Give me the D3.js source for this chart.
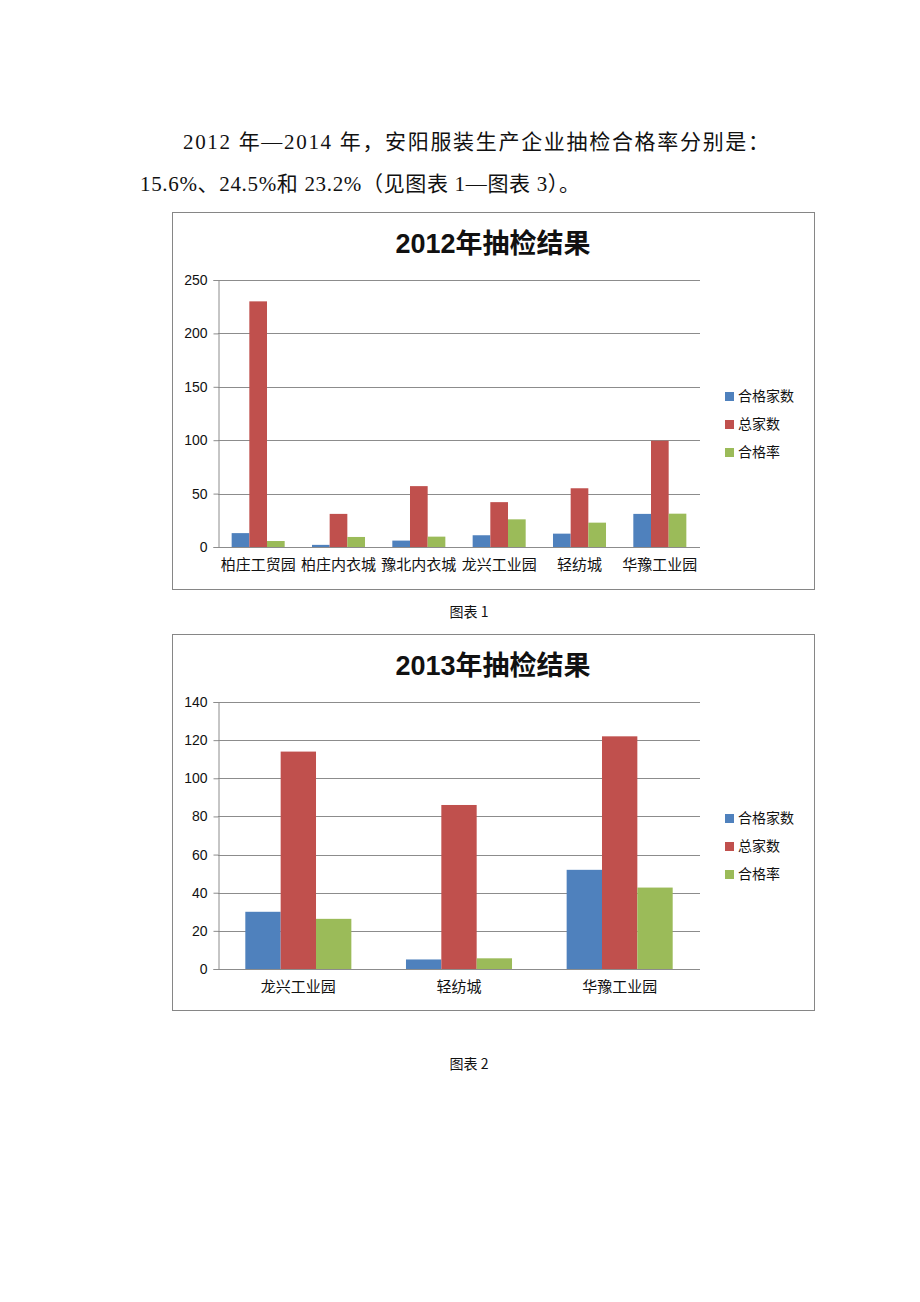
<!DOCTYPE html>
<html><head><meta charset="utf-8">
<script src="https://cdn.jsdelivr.net/npm/d3@7"></script>
<style>body{margin:0;background:#fff}svg{display:block}</style>
</head><body>
<script>
const seriesNames = ["合格家数", "总家数", "合格率"];
const colors = ["#4F81BD", "#C0504D", "#9BBB59"];

const categories2012 = ["柏庄工贸园", "柏庄内衣城", "豫北内衣城", "龙兴工业园", "轻纺城", "华豫工业园"];
const pass2012 = [13, 2, 6, 11, 12.5, 31];
const total2012 = [230, 31, 57, 42, 55, 99.5];
const rate2012 = [5.6, 9.4, 9.7, 25.9, 22.8, 31.2];
const ticks2012 = [0, 50, 100, 150, 200, 250];

const categories2013 = ["龙兴工业园", "轻纺城", "华豫工业园"];
const pass2013 = [30, 5, 52];
const total2013 = [114, 86, 122];
const rate2013 = [26.3, 5.6, 42.7];
const ticks2013 = [0, 20, 40, 60, 80, 100, 120, 140];

const W = 920, H = 1302;
const svg = d3.select("body").append("svg").attr("width", W).attr("height", H);
svg.append("rect").attr("width", W).attr("height", H).attr("fill", "#fff");

const serif = "'Liberation Serif','Noto Sans CJK SC',serif";
const sans = "'Noto Sans CJK SC','Liberation Sans',sans-serif";

svg.append("text").attr("x", 183).attr("y", 149).attr("font-family", serif).attr("font-size", 21).attr("fill", "#111")
  .attr("textLength", 586).attr("lengthAdjust", "spacing")
  .text("2012 年—2014 年，安阳服装生产企业抽检合格率分别是：");
svg.append("text").attr("x", 140).attr("y", 191).attr("font-family", serif).attr("font-size", 21).attr("fill", "#111")
  .attr("textLength", 440).attr("lengthAdjust", "spacing")
  .text("15.6%、24.5%和 23.2%（见图表 1—图表 3）。");

function drawChart(opt) {
  const g = svg.append("g");
  g.append("rect").attr("x", opt.box[0] + 0.5).attr("y", opt.box[1] + 0.5)
    .attr("width", opt.box[2]).attr("height", opt.box[3])
    .attr("fill", "#fff").attr("stroke", "#868686").attr("stroke-width", 1);
  g.append("text").attr("x", 493).attr("y", opt.titleY).attr("text-anchor", "middle")
    .attr("font-family", "'Liberation Sans','Noto Sans CJK SC',sans-serif").attr("font-weight", "bold")
    .attr("font-size", 27).attr("fill", "#111").text(opt.title);

  const x0 = d3.scaleBand().domain(opt.categories).range([218, 700]).paddingInner(0.34).paddingOuter(0.17);
  const x1 = d3.scaleBand().domain(d3.range(3)).range([0, x0.bandwidth()]);
  const y = d3.scaleLinear().domain([0, opt.max]).range([opt.bottom, opt.top]);

  g.append("g").selectAll("line").data(opt.ticks).join("line")
    .attr("x1", 218).attr("x2", 700)
    .attr("y1", d => Math.round(y(d)) + 0.5).attr("y2", d => Math.round(y(d)) + 0.5)
    .attr("stroke", "#8c8c8c").attr("stroke-width", 1);

  const yAxis = g.append("g").attr("transform", "translate(218.5,0)")
    .call(d3.axisLeft(y).tickValues(opt.ticks).tickSize(5).tickPadding(6));
  yAxis.select(".domain").attr("stroke", "#8c8c8c");
  yAxis.selectAll(".tick line").attr("stroke", "#8c8c8c");
  yAxis.selectAll("text").attr("font-family", "'Liberation Sans',sans-serif").attr("font-size", 14).attr("fill", "#111");

  const series = [opt.pass, opt.total, opt.rate];
  opt.categories.forEach((c, i) => {
    series.forEach((s, j) => {
      g.append("rect")
        .attr("x", x0(c) + x1(j)).attr("width", x1.bandwidth())
        .attr("y", y(s[i])).attr("height", y(0) - y(s[i]))
        .attr("fill", colors[j]);
    });
  });

  const xAxis = g.append("g").attr("transform", `translate(0,${Math.round(opt.bottom) + 0.5})`)
    .call(d3.axisBottom(x0).tickSize(0).tickPadding(12));
  xAxis.select(".domain").attr("stroke", "#8c8c8c").attr("d", "M218,0H700");
  xAxis.selectAll("text").attr("font-family", sans).attr("font-size", opt.catFont).attr("fill", "#111");

  const lg = g.append("g");
  seriesNames.forEach((n, j) => {
    const ly = opt.legendY + j * 28;
    lg.append("rect").attr("x", 725).attr("y", ly - 5).attr("width", 9).attr("height", 9).attr("fill", colors[j]);
    lg.append("text").attr("x", 738).attr("y", ly).attr("dominant-baseline", "middle")
      .attr("font-family", sans).attr("font-size", 14).attr("fill", "#111").text(n);
  });

  svg.append("text").attr("x", 469).attr("y", opt.captionY).attr("text-anchor", "middle")
    .attr("font-family", sans).attr("font-size", 14).attr("fill", "#111").text(opt.caption);
}

drawChart({
  box: [172, 212, 642, 377], title: "2012年抽检结果", titleY: 253,
  categories: categories2012, pass: pass2012, total: total2012, rate: rate2012,
  ticks: ticks2012, max: 250, top: 280, bottom: 547, legendY: 397, catFont: 15,
  caption: "图表 1", captionY: 617
});
drawChart({
  box: [172, 634, 642, 376], title: "2013年抽检结果", titleY: 675,
  categories: categories2013, pass: pass2013, total: total2013, rate: rate2013,
  ticks: ticks2013, max: 140, top: 702, bottom: 969, legendY: 819, catFont: 15,
  caption: "图表 2", captionY: 1069
});
</script>
</body></html>
